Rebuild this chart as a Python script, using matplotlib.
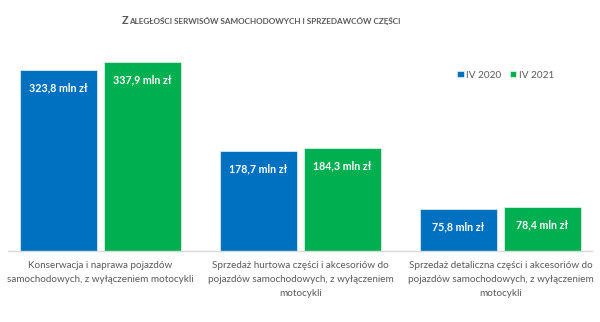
import matplotlib.pyplot as plt
import numpy as np

categories = ['Konserwacja i naprawa pojazdów\nsamochodowych, z wyłączeniem motocykli',
              'Sprzedaż hurtowa części i akcesoriów do\npojazdów samochodowych, z wyłączeniem\nmotocykli',
              'Sprzedaż detaliczna części i akcesoriów do\npojazdów samochodowych, z wyłączeniem\nmotocykli']
series_names = ['IV 2020', 'IV 2021']
values_2020 = [323.8, 178.7, 75.8]
values_2021 = [337.9, 184.3, 78.4]

blue = '#0070C0'
green = '#00B050'
grey = '#595959'
font = 'Lato'

fig = plt.figure(figsize=(6, 3.22), dpi=100)
ax = fig.add_axes([8/600, 71/322, 584/600, 212.4/322])

x = np.arange(len(categories))
w = 0.385
off = 0.21
b1 = ax.bar(x - off, values_2020, w, color=blue, label=series_names[0], edgecolor='white', linewidth=0.4)
b2 = ax.bar(x + off, values_2021, w, color=green, label=series_names[1], edgecolor='white', linewidth=0.4)

def fmt(v):
    return ('%.1f' % v).replace('.', ',') + ' mln zł'

for bars, vals in ((b1, values_2020), (b2, values_2021)):
    for b, v in zip(bars, vals):
        ax.annotate(fmt(v), (b.get_x() + b.get_width()/2, v), xytext=(0, -13),
                    textcoords='offset points', ha='center', va='center',
                    color='white', fontsize=7.7, fontweight='bold', family=font)

ax.set_xlim(-0.4625, 2.4575)
ax.set_ylim(0, 380)
for s in ['top', 'right', 'left']:
    ax.spines[s].set_visible(False)
ax.spines['bottom'].set_color('#d9d9d9')
ax.spines['bottom'].set_linewidth(1)
ax.set_yticks([])
ax.set_xticks(x)
ax.set_xticklabels(categories, fontsize=7.1, color=grey, family=font, linespacing=1.72)
ax.tick_params(axis='x', length=0, pad=7)

leg = ax.legend(loc='upper left', bbox_to_anchor=(445/584, 1 - 28/212.4), ncol=2, frameon=False,
                fontsize=7.2, handlelength=0.65, handleheight=0.65, handletextpad=0.3,
                columnspacing=0.8, borderaxespad=0)
for t in leg.get_texts():
    t.set_color(grey)
    t.set_family(font)

# title in small caps style
fig.canvas.draw()
r = fig.canvas.get_renderer()
t1 = fig.text(0, 0, 'Z', fontsize=7.8, fontweight='bold', color=grey, family=font)
t2 = fig.text(0, 0, 'ALEGŁOŚCI SERWISÓW SAMOCHODOWYCH I SPRZEDAWCÓW CZĘŚCI', fontsize=5.9,
              fontweight='bold', color=grey, family=font)
w1 = t1.get_window_extent(r).width
w2 = t2.get_window_extent(r).width
total = w1 + w2
x0 = 261 - total/2
y0 = 322 - 24
t1.set_position((x0/600, y0/322))
t2.set_position(((x0 + w1)/600, y0/322))

fig.savefig('out.png', dpi=100)
